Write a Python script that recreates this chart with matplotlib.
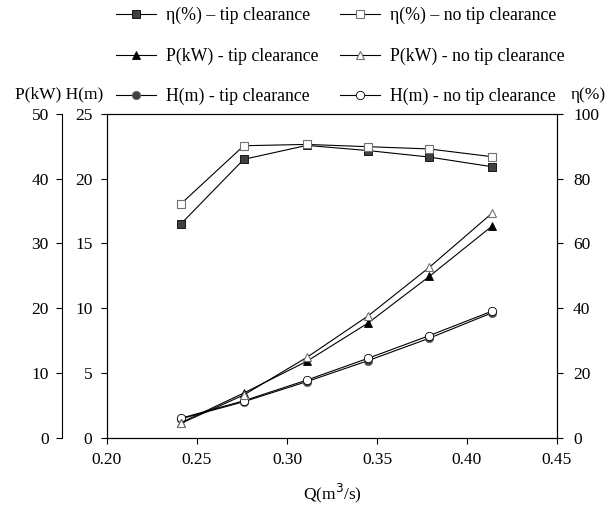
import matplotlib.pyplot as plt

plt.rcParams['font.family'] = ['Liberation Serif', 'DejaVu Serif']
plt.rcParams['font.size'] = 12.5

# caudal Q (m3/s)
Q = [0.241, 0.276, 0.311, 0.345, 0.379, 0.414]

# rendimiento (%)
eta_tip = [66.0, 86.0, 90.3, 88.7, 86.7, 83.7]
eta_no = [72.2, 90.2, 90.6, 89.9, 89.2, 86.8]

# potencia (kW)
P_tip = [2.3, 6.9, 11.8, 17.7, 24.9, 32.7]
P_no = [2.2, 6.6, 12.4, 18.8, 26.3, 34.7]

# altura (m)
H_tip = [1.45, 2.78, 4.33, 5.95, 7.68, 9.65]
H_no = [1.5, 2.85, 4.45, 6.13, 7.88, 9.78]

fig = plt.figure(figsize=(6.16, 5.08), dpi=100)
ax = fig.add_axes([0.1737, 0.1384, 0.7305, 0.6372])
axP = ax.twinx()
axE = ax.twinx()

# eje P a la izquierda, desplazado
axP.yaxis.set_ticks_position('left')
axP.yaxis.set_label_position('left')
axP.spines['left'].set_position(('outward', 32.4))
axP.spines['left'].set_visible(True)
for s in ['right', 'top', 'bottom']:
    axP.spines[s].set_visible(False)

lw = 0.8
dark = '#404040'
grey = '#707070'

h1, = axE.plot(Q, eta_tip, color='black', lw=lw, marker='s', ms=5.5,
               mfc=dark, mec='black', mew=0.6, label='η(%) – tip clearance')
h2, = axE.plot(Q, eta_no, color='black', lw=lw, marker='s', ms=5.5,
               mfc='white', mec=grey, mew=0.8, label='η(%) – no tip clearance')
h3, = axP.plot(Q, P_tip, color='black', lw=lw, marker='^', ms=6,
               mfc='black', mec='black', mew=0.6, label='P(kW) - tip clearance')
h4, = axP.plot(Q, P_no, color='black', lw=lw, marker='^', ms=6,
               mfc='white', mec=grey, mew=0.8, label='P(kW) - no tip clearance')
h5, = ax.plot(Q, H_tip, color='black', lw=lw, marker='o', ms=6,
              mfc=dark, mec=grey, mew=0.6, label='H(m) - tip clearance')
h6, = ax.plot(Q, H_no, color='black', lw=lw, marker='o', ms=6,
              mfc='white', mec='black', mew=0.6, label='H(m) - no tip clearance')

ax.set_xlim(0.20, 0.45)
ax.set_xticks([0.20, 0.25, 0.30, 0.35, 0.40, 0.45])
ax.set_xticklabels(['0.20', '0.25', '0.30', '0.35', '0.40', '0.45'])
ax.set_ylim(0, 25)
ax.set_yticks([0, 5, 10, 15, 20, 25])
axP.set_ylim(0, 50)
axP.set_yticks([0, 10, 20, 30, 40, 50])
axE.set_ylim(0, 100)
axE.set_yticks([0, 20, 40, 60, 80, 100])

for a in [ax, axP, axE]:
    a.tick_params(direction='out', length=4.5, width=0.8, colors='black')
    for s in a.spines.values():
        s.set_linewidth(0.8)
ax.tick_params(axis='x', pad=6)
ax.tick_params(axis='y', pad=6)
axP.tick_params(axis='y', pad=5)
axE.tick_params(axis='y', pad=7)

ax.set_xlabel('Q(m$^3$/s)', labelpad=10)

fig.text(0.024, 0.815, 'P(kW) H(m)', ha='left', va='center')
fig.text(0.984, 0.813, 'η(%)', ha='right', va='center')

# leyenda en dos columnas fijas
leg_kw = dict(loc='upper left', frameon=False, fontsize=12.8, borderpad=0,
              borderaxespad=0, handlelength=2.25, handletextpad=0.56,
              labelspacing=1.3)
fig.legend([h1, h3, h5], [h.get_label() for h in [h1, h3, h5]],
           bbox_to_anchor=(0.188, 0.986), **leg_kw)
fig.legend([h2, h4, h6], [h.get_label() for h in [h2, h4, h6]],
           bbox_to_anchor=(0.552, 0.986), **leg_kw)

fig.savefig('out.png', dpi=100)
